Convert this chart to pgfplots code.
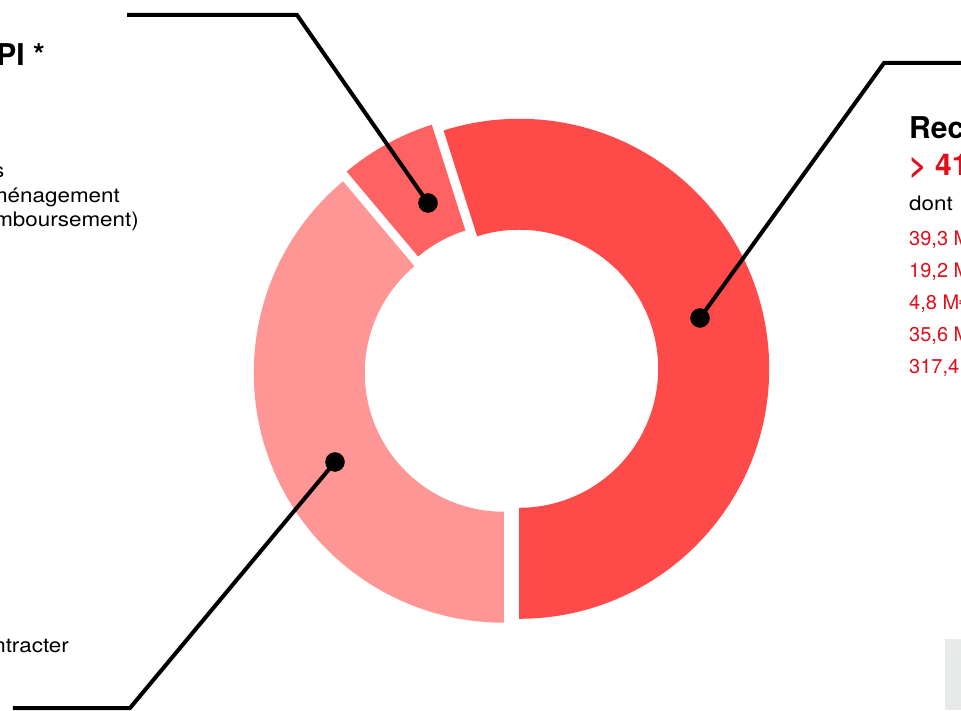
\documentclass[border=0pt]{standalone}
\usepackage{pgfplots}
\pgfplotsset{compat=1.18}
\usepackage{fontspec}
\setmainfont{TeX Gyre Heros}
\newfontfamily\wide[FakeStretch=1.12]{TeX Gyre Heros}
\definecolor{sred}{HTML}{FF4A4A}
\definecolor{sredb}{HTML}{FF6262}
\definecolor{spink}{HTML}{FF9696}
\definecolor{tred}{HTML}{E30D1B}
\definecolor{lgrey}{HTML}{E8E9E9}
% slice values
\def\va{416.3}
\def\vb{47.2}
\def\vc{294.9}
\pgfmathsetmacro\tot{\va+\vb+\vc}
\pgfmathsetmacro\aA{-90}
\pgfmathsetmacro\aB{\aA+360*(\va/\tot)}
\pgfmathsetmacro\aC{\aB+360*(\vb/\tot)}
\pgfmathsetmacro\aD{\aC+360*(\vc/\tot)}
\def\cx{511.3}\def\cy{340}\def\ex{8}
\pgfmathsetmacro\sxA{\cx+\ex*cos((\aA+\aB)/2)}\pgfmathsetmacro\syA{\cy+\ex*sin((\aA+\aB)/2)}
\pgfmathsetmacro\sxB{\cx+\ex*cos((\aB+\aC)/2)}\pgfmathsetmacro\syB{\cy+\ex*sin((\aB+\aC)/2)}
\pgfmathsetmacro\sxC{\cx+\ex*cos((\aC+\aD)/2)}\pgfmathsetmacro\syC{\cy+\ex*sin((\aC+\aD)/2)}
\pgfmathsetmacro\bA{\aB+180}\pgfmathsetmacro\bB{\aC+180}\pgfmathsetmacro\bC{\aD+180}
\newcommand\fs[1]{\fontsize{#1}{#1}\selectfont}
\begin{document}
\begin{tikzpicture}
\begin{axis}[width=961pt,height=710pt,scale only axis,
  xmin=0,xmax=961,ymin=0,ymax=710,hide axis,clip=false]
\fill[lgrey] (axis cs:945,0) rectangle (axis cs:965,71);
\fill[sred] (axis cs:\sxA,\syA) ++(\aA:250pt) arc[start angle=\aA,end angle=\aB,radius=250pt] -- ++(\bA:111pt) arc[start angle=\aB,end angle=\aA,radius=139pt] -- cycle;
\fill[sredb] (axis cs:\sxB,\syB) ++(\aB:250pt) arc[start angle=\aB,end angle=\aC,radius=250pt] -- ++(\bB:111pt) arc[start angle=\aC,end angle=\aB,radius=139pt] -- cycle;
\fill[spink] (axis cs:\sxC,\syC) ++(\aC:250pt) arc[start angle=\aC,end angle=\aD,radius=250pt] -- ++(\bC:111pt) arc[start angle=\aD,end angle=\aC,radius=139pt] -- cycle;
\addplot[black,line width=4pt,line join=miter,mark=none] coordinates {(127,695) (297,695) (428,507)};
\addplot[black,line width=4pt,line join=miter,mark=none] coordinates {(700,392) (884,647) (975,647)};
\addplot[black,line width=4pt,line join=miter,mark=none] coordinates {(335,248) (130,2) (13,2)};
\addplot[black,only marks,mark=*,mark size=9.5pt] coordinates {(428,507) (700,392) (335,248)};
% left texts
\node[inner sep=0,anchor=base east,font=\fs{30}\bfseries] at (axis cs:45,644) {PPI *};
\node[inner sep=0,anchor=base east,font=\fs{20}\wide] at (axis cs:4.5,532) {études};
\node[inner sep=0,anchor=base east,font=\fs{20}\wide] at (axis cs:120,507) {aménagement};
\node[inner sep=0,anchor=base east,font=\fs{20}\wide] at (axis cs:139,483) {(remboursement)};
\node[inner sep=0,anchor=base east,font=\fs{20}\wide] at (axis cs:69,58) {contracter};
% right texts
\node[inner sep=0,anchor=base west,font=\fs{30}\bfseries] at (axis cs:909,571) {Recettes};
\node[inner sep=0,anchor=base west,font=\fs{30}\bfseries,text=tred] at (axis cs:909,534) {> 416 M€};
\node[inner sep=0,anchor=base west,font=\fs{20}\wide] at (axis cs:909,499) {dont};
\node[inner sep=0,anchor=base west,font=\fs{20},text=tred] at (axis cs:909,464) {39,3 M€};
\node[inner sep=0,anchor=base west,font=\fs{20},text=tred] at (axis cs:909,432) {19,2 M€};
\node[inner sep=0,anchor=base west,font=\fs{20},text=tred] at (axis cs:909,400) {4,8 M€};
\node[inner sep=0,anchor=base west,font=\fs{20},text=tred] at (axis cs:909,368) {35,6 M€};
\node[inner sep=0,anchor=base west,font=\fs{20},text=tred] at (axis cs:909,336) {317,4 M€};
\end{axis}
\pgfresetboundingbox
\useasboundingbox (current axis.south west) rectangle (current axis.north east);
\end{tikzpicture}
\end{document}
